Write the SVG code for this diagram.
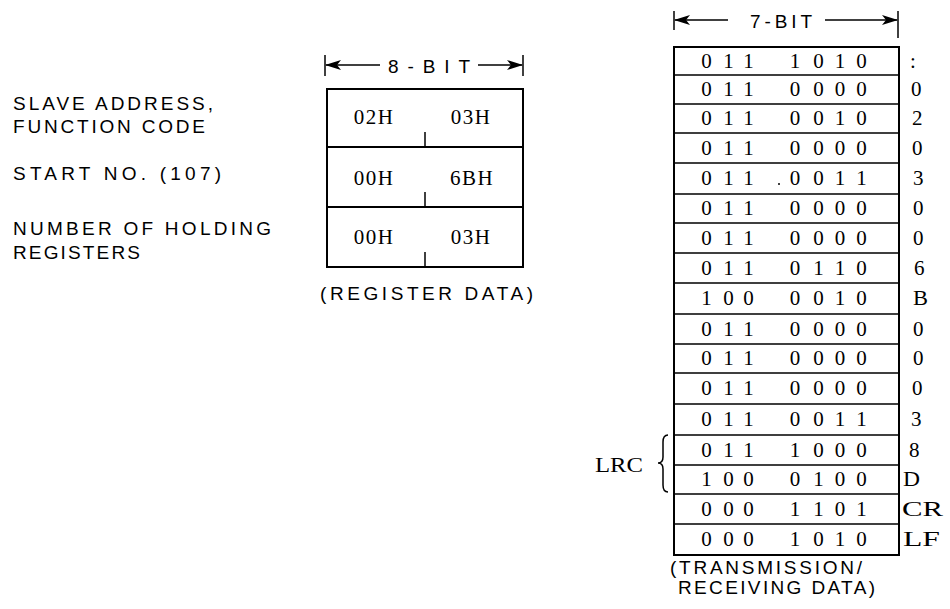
<svg xmlns="http://www.w3.org/2000/svg" width="950" height="609" viewBox="0 0 950 609">
<style>
.sans{font-family:"Liberation Sans","DejaVu Sans",sans-serif;font-size:19px;fill:#000}
.serif{font-family:"Liberation Serif","DejaVu Serif",serif;font-size:21px;fill:#000}
.bits{font-family:"Liberation Serif","DejaVu Serif",serif;font-size:21px;fill:#000;text-anchor:middle}
.ln{stroke:#000;stroke-width:2;fill:none}
.thin{stroke:#000;stroke-width:1.5;fill:none}
</style>
<defs>
<marker id="ah" markerWidth="16" markerHeight="10" refX="15" refY="5" orient="auto" markerUnits="userSpaceOnUse">
<path d="M0,0 L16,5 L0,10 L4,5 Z" fill="#000"/>
</marker>
</defs>
<rect width="950" height="609" fill="#fff"/>

<g id="labels">
<text class="sans" x="13" y="110" textLength="200" lengthAdjust="spacing">SLAVE ADDRESS,</text>
<text class="sans" x="13" y="133" textLength="192" lengthAdjust="spacing">FUNCTION CODE</text>
<text class="sans" x="13" y="180" textLength="208" lengthAdjust="spacing">START NO. (107)</text>
<text class="sans" x="13" y="235" textLength="258" lengthAdjust="spacing">NUMBER OF HOLDING</text>
<text class="sans" x="13" y="259" textLength="127" lengthAdjust="spacing">REGISTERS</text>
</g>

<g id="register-header">
<line class="thin" x1="325" y1="55" x2="325" y2="76"/>
<line class="thin" x1="523" y1="55" x2="523" y2="76"/>
<line class="thin" x1="380" y1="65" x2="326" y2="65" marker-end="url(#ah)"/>
<line class="thin" x1="478" y1="65" x2="522" y2="65" marker-end="url(#ah)"/>
<text class="sans" x="388" y="72.5" textLength="82" lengthAdjust="spacing">8-BIT</text>
</g>

<g id="register-data">
<rect class="ln" x="327" y="89" width="196" height="178"/>
<line class="ln" x1="327" y1="147" x2="523" y2="147"/>
<line class="ln" x1="327" y1="207" x2="523" y2="207"/>
<line class="thin" x1="425" y1="132" x2="425" y2="147"/>
<line class="thin" x1="425" y1="192" x2="425" y2="207"/>
<line class="thin" x1="425" y1="252" x2="425" y2="267"/>
<text class="serif" x="374" y="124" text-anchor="middle" letter-spacing="1.5" font-size="20">02H</text>
<text class="serif" x="471" y="124" text-anchor="middle" letter-spacing="1.5" font-size="20">03H</text>
<text class="serif" x="374" y="185" text-anchor="middle" letter-spacing="1.5" font-size="20">00H</text>
<text class="serif" x="472" y="185" text-anchor="middle" letter-spacing="1.5" font-size="20">6BH</text>
<text class="serif" x="374" y="244" text-anchor="middle" letter-spacing="1.5" font-size="20">00H</text>
<text class="serif" x="471" y="244" text-anchor="middle" letter-spacing="1.5" font-size="20">03H</text>
<text class="sans" x="320" y="300" textLength="213" lengthAdjust="spacing">(REGISTER DATA)</text>
</g>

<g id="transmission-header">
<line class="thin" x1="674" y1="11" x2="674" y2="30"/>
<line class="thin" x1="898" y1="11" x2="898" y2="38"/>
<line class="thin" x1="728" y1="20" x2="675" y2="20" marker-end="url(#ah)"/>
<line class="thin" x1="825" y1="20" x2="897" y2="20" marker-end="url(#ah)"/>
<text class="sans" x="750" y="27.5" textLength="62" lengthAdjust="spacing" font-size="18">7-BIT</text>
</g>

<g id="transmission-data">
<rect class="ln" x="674" y="47" width="225" height="508"/>
<path class="thin" d="M674,75H899M674,104H899M674,133H899M674,163H899M674,194H899M674,223H899M674,253H899M674,283H899M674,314H899M674,344H899M674,373H899M674,404H899M674,435H899M674,465H899M674,494H899M674,524H899"/>
<g class="bits">
<text x="706.5 728.5 748.5 795 818.5 840 861.5" y="67.5">0111010</text>
<text x="706.5 728.5 748.5 795 818.5 840 861.5" y="96">0110000</text>
<text x="706.5 728.5 748.5 795 818.5 840 861.5" y="125">0110010</text>
<text x="706.5 728.5 748.5 795 818.5 840 861.5" y="154.5">0110000</text>
<text x="706.5 728.5 748.5 795 818.5 840 861.5" y="185">0110011</text>
<text x="706.5 728.5 748.5 795 818.5 840 861.5" y="215">0110000</text>
<text x="706.5 728.5 748.5 795 818.5 840 861.5" y="244.5">0110000</text>
<text x="706.5 728.5 748.5 795 818.5 840 861.5" y="274.5">0110110</text>
<text x="706.5 728.5 748.5 795 818.5 840 861.5" y="305">1000010</text>
<text x="706.5 728.5 748.5 795 818.5 840 861.5" y="335.5">0110000</text>
<text x="706.5 728.5 748.5 795 818.5 840 861.5" y="365">0110000</text>
<text x="706.5 728.5 748.5 795 818.5 840 861.5" y="395">0110000</text>
<text x="706.5 728.5 748.5 795 818.5 840 861.5" y="426">0110011</text>
<text x="706.5 728.5 748.5 795 818.5 840 861.5" y="456.5">0111000</text>
<text x="706.5 728.5 748.5 795 818.5 840 861.5" y="486">1000100</text>
<text x="706.5 728.5 748.5 795 818.5 840 861.5" y="515.5">0001101</text>
<text x="706.5 728.5 748.5 795 818.5 840 861.5" y="546">0001010</text>
</g>
<circle cx="779" cy="184" r="1" fill="#000"/>
<g class="serif">
<text x="910" y="67.5">:</text>
<text x="911" y="96">0</text>
<text x="912" y="125">2</text>
<text x="912" y="154.5">0</text>
<text x="913" y="185">3</text>
<text x="913" y="215">0</text>
<text x="913" y="244.5">0</text>
<text x="914" y="274.5">6</text>
<text x="913" y="305" textLength="15" lengthAdjust="spacingAndGlyphs">B</text>
<text x="913" y="335.5">0</text>
<text x="913" y="365">0</text>
<text x="912" y="395">0</text>
<text x="911" y="426">3</text>
<text x="909" y="456.5">8</text>
<text x="903" y="486" textLength="17" lengthAdjust="spacingAndGlyphs">D</text>
<text x="902" y="515.5" textLength="41" lengthAdjust="spacingAndGlyphs">CR</text>
<text x="903" y="546" textLength="37" lengthAdjust="spacingAndGlyphs">LF</text>
</g>
<text class="sans" x="670" y="574" textLength="192" lengthAdjust="spacing" font-size="17">(TRANSMISSION/</text>
<text class="sans" x="678" y="594" textLength="197" lengthAdjust="spacing" font-size="17">RECEIVING DATA)</text>
</g>

<g id="lrc">
<path class="thin" d="M668,435 Q663,435 663,442 L663,457 Q663,463 658,463 Q663,463 663,469 L663,485 Q663,492 668,492"/>
<text class="serif" x="595" y="472" textLength="48" lengthAdjust="spacingAndGlyphs">LRC</text>
</g>
</svg>
